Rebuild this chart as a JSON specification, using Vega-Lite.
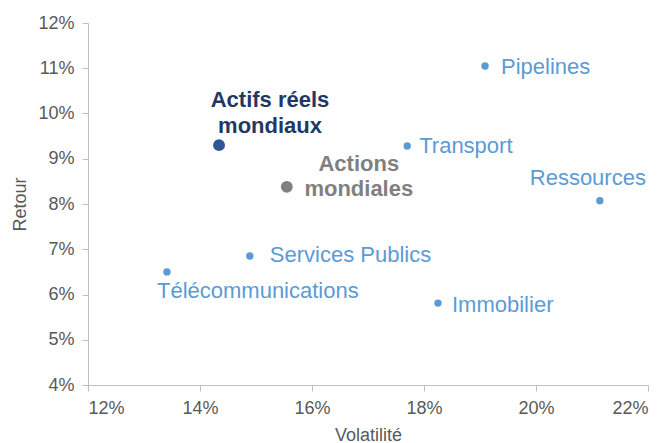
{
  "$schema": "https://vega.github.io/schema/vega-lite/v6.json",
  "width": 560,
  "height": 362,
  "autosize": {"type": "none"},
  "padding": {"left": 88, "top": 23, "right": 21, "bottom": 58},
  "background": "white",
  "config": {
    "view": {"stroke": null},
    "font": "Liberation Sans",
    "axis": {
      "grid": false,
      "domainColor": "#BFBFBF",
      "tickColor": "#BFBFBF",
      "labelFont": "Liberation Sans",
      "labelFontSize": 18,
      "labelColor": "#595959",
      "titleFont": "Liberation Sans",
      "titleFontSize": 18,
      "titleFontWeight": "normal",
      "titleColor": "#595959"
    }
  },
  "data": {
    "values": [
      {"name": "Pipelines", "vol": 0.1909, "ret": 0.1105, "grp": "secteur"},
      {"name": "Transport", "vol": 0.1770, "ret": 0.0928, "grp": "secteur"},
      {"name": "Ressources", "vol": 0.2114, "ret": 0.0807, "grp": "secteur"},
      {"name": "Services Publics", "vol": 0.1489, "ret": 0.0685, "grp": "secteur"},
      {"name": "Télécommunications", "vol": 0.1341, "ret": 0.0650, "grp": "secteur"},
      {"name": "Immobilier", "vol": 0.1825, "ret": 0.0581, "grp": "secteur"},
      {"name": "Actifs réels mondiaux", "vol": 0.1434, "ret": 0.0930, "grp": "actifs"},
      {"name": "Actions mondiales", "vol": 0.1555, "ret": 0.0838, "grp": "actions"}
    ]
  },
  "encoding": {
    "x": {
      "field": "vol", "type": "quantitative",
      "scale": {"domain": [0.12, 0.22], "nice": false, "zero": false},
      "axis": {"format": ".0%", "values": [0.12, 0.14, 0.16, 0.18, 0.2, 0.22], "title": "Volatilité", "tickSize": 6, "labelPadding": 8, "titlePadding": 9}
    },
    "y": {
      "field": "ret", "type": "quantitative",
      "scale": {"domain": [0.04, 0.12], "nice": false, "zero": false},
      "axis": {"format": ".0%", "values": [0.04, 0.05, 0.06, 0.07, 0.08, 0.09, 0.1, 0.11, 0.12], "title": "Retour", "tickSize": 6, "labelPadding": 8, "titlePadding": 8}
    }
  },
  "layer": [
    {
      "transform": [{"filter": "datum.grp === 'secteur'"}],
      "mark": {"type": "point", "filled": true, "size": 55, "color": "#5B9BD5", "opacity": 1}
    },
    {
      "transform": [{"filter": "datum.grp === 'actifs'"}],
      "mark": {"type": "point", "filled": true, "size": 140, "color": "#2F5597", "opacity": 1}
    },
    {
      "transform": [{"filter": "datum.grp === 'actions'"}],
      "mark": {"type": "point", "filled": true, "size": 140, "color": "#808080", "opacity": 1}
    },
    {
      "transform": [{"filter": "datum.name === 'Pipelines'"}],
      "mark": {"type": "text", "align": "left", "baseline": "alphabetic", "dx": 16, "dy": 8, "fontSize": 22, "color": "#5B9BD5"},
      "encoding": {"text": {"field": "name"}}
    },
    {
      "transform": [{"filter": "datum.name === 'Transport'"}],
      "mark": {"type": "text", "align": "left", "baseline": "alphabetic", "dx": 12, "dy": 7, "fontSize": 22, "color": "#5B9BD5"},
      "encoding": {"text": {"field": "name"}}
    },
    {
      "transform": [{"filter": "datum.name === 'Services Publics'"}],
      "mark": {"type": "text", "align": "left", "baseline": "alphabetic", "dx": 20, "dy": 6, "fontSize": 22, "color": "#5B9BD5"},
      "encoding": {"text": {"field": "name"}}
    },
    {
      "transform": [{"filter": "datum.name === 'Immobilier'"}],
      "mark": {"type": "text", "align": "left", "baseline": "alphabetic", "dx": 14, "dy": 9, "fontSize": 22, "color": "#5B9BD5"},
      "encoding": {"text": {"field": "name"}}
    },
    {
      "transform": [{"filter": "datum.name === 'Ressources'"}],
      "mark": {"type": "text", "align": "center", "baseline": "alphabetic", "dx": -12, "dy": -16, "fontSize": 22, "color": "#5B9BD5"},
      "encoding": {"text": {"field": "name"}}
    },
    {
      "transform": [{"filter": "datum.name === 'Télécommunications'"}],
      "mark": {"type": "text", "align": "left", "baseline": "alphabetic", "dx": -10, "dy": 26, "fontSize": 22, "color": "#5B9BD5"},
      "encoding": {"text": {"field": "name"}}
    },
    {
      "transform": [{"filter": "datum.name === 'Actifs réels mondiaux'"}],
      "mark": {"type": "text", "align": "center", "baseline": "alphabetic", "dx": 51, "dy": -38, "lineHeight": 26, "fontSize": 22, "fontWeight": "bold", "color": "#1F3864"},
      "encoding": {"text": {"value": ["Actifs réels", "mondiaux"]}}
    },
    {
      "transform": [{"filter": "datum.name === 'Actions mondiales'"}],
      "mark": {"type": "text", "align": "center", "baseline": "alphabetic", "dx": 72, "dy": -16, "lineHeight": 25, "fontSize": 22, "fontWeight": "bold", "color": "#808080"},
      "encoding": {"text": {"value": ["Actions", "mondiales"]}}
    }
  ]
}
